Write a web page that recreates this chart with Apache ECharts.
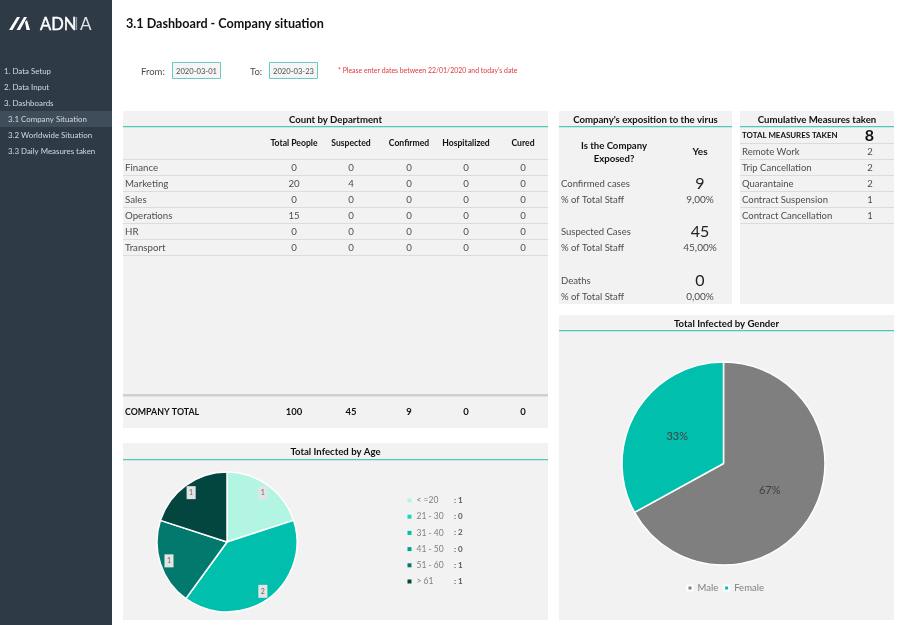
<!DOCTYPE html>
<html>
<head>
<meta charset="utf-8">
<title>3.1 Dashboard - Company situation</title>
<script src="https://cdn.jsdelivr.net/npm/echarts@6/dist/echarts.min.js"></script>
<style>
  html, body { margin: 0; padding: 0; background: #fff; }
  #chart { width: 900px; height: 625px; }
</style>
</head>
<body>
<div id="chart"></div>
<script>
// values
const navItems = ['1. Data Setup', '2. Data Input', '3. Dashboards', '3.1 Company Situation', '3.2 Worldwide Situation', '3.3 Daily Measures taken']
const deptColumns = ['Total People', 'Suspected', 'Confirmed', 'Hospitalized', 'Cured']
const deptNames = ['Finance', 'Marketing', 'Sales', 'Operations', 'HR', 'Transport']
const deptRows = [
  [0, 0, 0, 0, 0],
  [20, 4, 0, 0, 0],
  [0, 0, 0, 0, 0],
  [15, 0, 0, 0, 0],
  [0, 0, 0, 0, 0],
  [0, 0, 0, 0, 0],
]
const companyTotal = [100, 45, 9, 0, 0]
const exposureRows = [
  ['Confirmed cases', '9', '9,00%'],
  ['Suspected Cases', '45', '45,00%'],
  ['Deaths', '0', '0,00%'],
]
const measureNames = ['Remote Work', 'Trip Cancellation', 'Quarantaine', 'Contract Suspension', 'Contract Cancellation']
const measureValues = [2, 2, 2, 1, 1]
const totalMeasures = 8
const ageGroups = ['< =20', '21 - 30', '31 - 40', '41 - 50', '51 - 60', '> 61']
const ageValues = [1, 0, 2, 0, 1, 1]
const ageColors = ['#b3f5e3', '#1fd6c6', '#00bfad', '#00a090', '#01796d', '#03453f']
const genderNames = ['Male', 'Female']
const genderValues = [67, 33]
const genderColors = ['#7f7f7f', '#00bfad']

const FONT = 'Lato'
const PANEL = '#f2f2f2'
const TEAL = '#4fc8b8'
const ROW_LINE = '#dcdcdc'
const GREY_TEXT = '#4d4d4d'

const els = []

function rect(x, y, w, h, fill, extra) {
  els.push({ type: 'rect', z: 0, silent: true, shape: { x, y, width: w, height: h }, style: { fill, ...extra } })
}

function poly(points, fill) {
  els.push({ type: 'polygon', z: 1, silent: true, shape: { points }, style: { fill } })
}

function text(str, x, y, size, opts = {}) {
  els.push({
    type: 'text', z: 1, silent: true, x, y: y + 0.7,
    style: {
      text: String(str),
      fontFamily: FONT,
      fontSize: size,
      fontWeight: opts.bold ? 'bold' : 'normal',
      fill: opts.color || GREY_TEXT,
      stroke: opts.stroke,
      lineWidth: opts.stroke ? 0.4 : 0,
      textAlign: opts.align || 'left',
      textVerticalAlign: 'middle',
    },
  })
}

function panel(x, y, w, h, title, lineY) {
  rect(x, y, w, h, PANEL)
  rect(x, lineY, w, 1.2, TEAL)
  text(title, x + w / 2, y + 8, 9.6, { bold: true, color: '#111', align: 'center' })
}

function hLine(x, y, w) {
  rect(x, y, w, 1, ROW_LINE)
}

// sidebar
rect(0, 0, 112, 625, '#2e3a46')
rect(0, 111, 112, 16, '#3f4c5a')
poly([[9, 30], [17, 17], [20, 17], [12.5, 30]], '#fff')
poly([[16.5, 30], [24, 17], [27, 17], [20, 30]], '#fff')
poly([[25, 22], [27, 20], [30, 30], [26.5, 30]], '#fff')
text('ADN', 40, 23.5, 16.5, { color: '#fff', stroke: '#fff' })
text('I', 74, 23.5, 16.5, { color: '#8d97a1' })
text('A', 80, 23.5, 17, { color: '#dfe3e6' })
navItems.forEach((item, i) => {
  text(item, i > 2 ? 8 : 4, 71 + i * 16, 7.9, { color: '#d5d9dd' })
})

// header
text('3.1 Dashboard - Company situation', 126, 23, 12.6, { bold: true, color: '#111' })
text('From:', 141, 71, 9.5)
rect(172.5, 62.5, 48, 16, '#f5f5f5', { stroke: '#6ccbc0', lineWidth: 1 })
text('2020-03-01', 196.5, 70.5, 7.6, { align: 'center' })
text('To:', 250, 71, 9.5)
rect(269.5, 62.5, 48, 16, '#f5f5f5', { stroke: '#6ccbc0', lineWidth: 1 })
text('2020-03-23', 293.5, 70.5, 7.6, { align: 'center' })
text("* Please enter dates between 22/01/2020 and today's date", 338, 70.5, 6.9, { color: '#e0383e' })

// count by department
const colX = [294, 351, 409, 466, 523]
panel(123, 111, 425, 317, 'Count by Department', 126)
deptColumns.forEach((c, i) => text(c, colX[i], 143, 8.6, { bold: true, color: '#111', align: 'center' }))
hLine(123, 159, 425)
deptNames.forEach((name, r) => {
  const y = 167 + r * 16
  text(name, 125, y, 9.7)
  deptRows[r].forEach((v, i) => text(v, colX[i], y, 9.7, { align: 'center' }))
  hLine(123, y + 8, 425)
})
rect(123, 394, 425, 2.5, '#d0d0d0')
text('COMPANY TOTAL', 125, 411, 8.8, { bold: true, color: '#111' })
companyTotal.forEach((v, i) => text(v, colX[i], 411, 9.5, { bold: true, color: '#111', align: 'center' }))

// exposure
panel(559, 111, 173, 193, "Company's exposition to the virus", 126)
text('Is the Company', 614, 145, 9.6, { bold: true, color: '#111', align: 'center' })
text('Exposed?', 614, 158, 9.6, { bold: true, color: '#111', align: 'center' })
text('Yes', 700, 151, 10, { bold: true, color: '#111', align: 'center' })
const exposureY = [183, 231, 280]
exposureRows.forEach((row, i) => {
  const y = exposureY[i]
  text(row[0], 561, y, 9.5)
  text(row[1], 700, y, 16, { color: '#222', align: 'center' })
  text('% of Total Staff', 561, y + 16, 9.5)
  text(row[2], 700, y + 16, 10, { align: 'center' })
})

// measures
panel(740, 111, 154, 193, 'Cumulative Measures taken', 126)
text('TOTAL MEASURES TAKEN', 742, 135, 7.9, { bold: true, color: '#111' })
text(totalMeasures, 869.5, 135, 16, { bold: true, color: '#111', align: 'center' })
hLine(740, 143, 154)
measureNames.forEach((name, i) => {
  const y = 151 + i * 16
  text(name, 742, y, 9.5)
  text(measureValues[i], 870, y, 9.5, { align: 'center' })
  hLine(740, y + 8, 154)
})

// chart panels
panel(123, 443, 425, 177, 'Total Infected by Age', 459)
panel(559, 315, 335, 305, 'Total Infected by Gender', 330)

const ageData = ageGroups.map((name, i) => ({ name, value: ageValues[i], itemStyle: { color: ageColors[i] } }))
const genderData = genderNames.map((name, i) => ({ name, value: genderValues[i], itemStyle: { color: genderColors[i] } }))

const option = {
  animation: false,
  textStyle: { fontFamily: FONT },
  graphic: { elements: els },
  legend: [
    {
      data: ageGroups,
      orient: 'vertical',
      left: 407.5,
      top: 496,
      padding: 0,
      itemWidth: 4,
      itemHeight: 4,
      itemGap: 7.2,
      itemStyle: { borderWidth: 0 },
      icon: 'rect',
      selectedMode: false,
      formatter: name => `{n|${name}}{v|: ${ageValues[ageGroups.indexOf(name)]}}`,
      textStyle: {
        rich: {
          n: { width: 37.5, fontSize: 8.5, color: '#7f7f7f', fontFamily: FONT, lineHeight: 11 },
          v: { fontSize: 8, fontWeight: 'bold', color: '#595959', fontFamily: FONT, lineHeight: 11 },
        },
      },
    },
    {
      data: genderNames,
      left: 686.5,
      top: 583,
      padding: 0,
      itemWidth: 5,
      itemHeight: 5,
      itemGap: 5,
      icon: 'rect',
      selectedMode: false,
      textStyle: { fontSize: 9.5, color: '#7f7f7f', fontFamily: FONT },
    },
  ],
  series: [
    {
      type: 'pie',
      center: [227, 542],
      radius: 70,
      startAngle: 90,
      clockwise: true,
      silent: true,
      data: ageData,
      itemStyle: { borderColor: '#fff', borderWidth: 1.5 },
      label: { show: false },
      labelLine: { show: false },
    },
    {
      // label ring only, keeps the value boxes out near the rim of the pie
      type: 'pie',
      center: [227, 542],
      radius: [46, 70],
      startAngle: 90,
      silent: true,
      data: ageData.map(d => ({ ...d, itemStyle: { color: 'transparent' }, label: { show: d.value > 0 } })),
      itemStyle: { color: 'transparent' },
      label: {
        position: 'inside',
        formatter: '{c}',
        fontSize: 7,
        color: '#666',
        backgroundColor: '#e4e4e4',
        padding: [3, 2.5],
      },
      labelLine: { show: false },
    },
    {
      type: 'pie',
      center: [723.5, 463.5],
      radius: 101.5,
      startAngle: 90,
      silent: true,
      data: genderData,
      itemStyle: { borderColor: '#fff', borderWidth: 1.5 },
      label: {
        position: 'inside',
        formatter: '{c}%',
        fontSize: 11,
        color: '#404040',
      },
      labelLine: { show: false },
    },
  ],
}

const chart = echarts.init(document.getElementById('chart'))
chart.setOption(option)
</script>
</body>
</html>
